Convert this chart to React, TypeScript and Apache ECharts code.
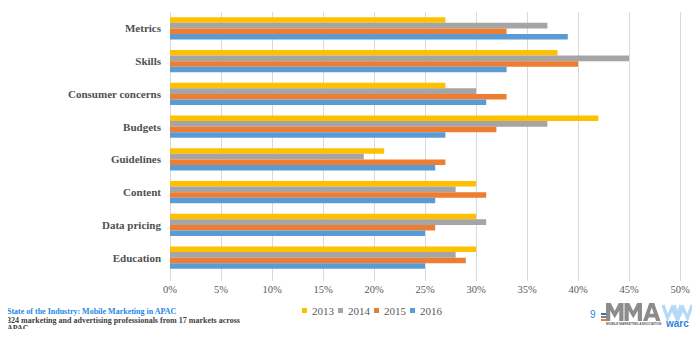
import React, { useEffect, useRef } from "react";
import * as echarts from "echarts";

const categories = [
  "Metrics",
  "Skills",
  "Consumer concerns",
  "Budgets",
  "Guidelines",
  "Content",
  "Data pricing",
  "Education",
];
const years = ["2013", "2014", "2015", "2016"];
const v2013 = [27, 38, 27, 42, 21, 30, 30, 30];
const v2014 = [37, 45, 30, 37, 19, 28, 31, 28];
const v2015 = [33, 40, 33, 32, 27, 31, 26, 29];
const v2016 = [39, 33, 31, 27, 26, 26, 25, 25];
const seriesValues = [v2013, v2014, v2015, v2016];
const colors = ["#FFC000", "#A5A5A5", "#ED7D31", "#5B9BD5"];
const footerTitle = "State of the Industry: Mobile Marketing in APAC";
const footerLine1 = "324 marketing and advertising professionals from 17 markets across";
const footerLine2 = "APAC";

// logo letter outlines in unit coordinates (width 1, height 1)
const mShape = [
  [0, 1], [0, 0], [0.27, 0], [0.5, 0.45], [0.73, 0], [1, 0], [1, 1],
  [0.76, 1], [0.76, 0.42], [0.5, 0.85], [0.24, 0.42], [0.24, 1],
];
const aShape = [
  [0, 1], [0.36, 0], [0.64, 0], [1, 1], [0.75, 1], [0.68, 0.8], [0.32, 0.8], [0.25, 1],
];
const aHole = [[0.38, 0.6], [0.62, 0.6], [0.5, 0.25]];

export default function App() {
  const ref = useRef<HTMLDivElement>(null);
  useEffect(() => {
    if (!ref.current) return;
    const chart = echarts.init(ref.current, null, { renderer: "svg" });
    const serif = "'Liberation Serif', serif";
    const wStyle = { stroke: "#B4DAF4", lineWidth: 3.2, fill: "none", lineJoin: "miter" as const };
    const place = (pts: number[][], x: number, y: number, w: number, h: number) =>
      pts.map(([px, py]) => [x + px * w, y + py * h]);
    chart.setOption({
      animation: false,
      backgroundColor: "#ffffff",
      grid: { left: 170, right: 20, top: 12, bottom: 63, containLabel: false },
      legend: {
        data: years,
        left: 302,
        top: 305,
        padding: 0,
        icon: "rect",
        itemWidth: 5,
        itemHeight: 5,
        itemGap: 4,
        textStyle: { fontFamily: serif, fontSize: 11, color: "#595959" },
      },
      xAxis: {
        type: "value",
        min: 0,
        max: 50,
        interval: 5,
        axisLabel: {
          formatter: "{value}%",
          fontFamily: serif,
          fontSize: 10.5,
          color: "#595959",
          margin: 10,
        },
        axisLine: { show: false },
        axisTick: { show: true, length: 7, lineStyle: { color: "#D9D9D9", width: 1 } },
        splitLine: { show: true, lineStyle: { color: "#D9D9D9", width: 1 } },
      },
      yAxis: {
        type: "category",
        inverse: true,
        data: categories,
        axisLabel: {
          fontFamily: serif,
          fontWeight: "bold",
          fontSize: 11,
          color: "#505050",
          margin: 9,
        },
        axisLine: { show: false },
        axisTick: { show: false },
        splitLine: { show: false },
      },
      series: years.map((y, i) => ({
        name: y,
        type: "bar",
        data: seriesValues[i],
        barGap: "0%",
        barCategoryGap: "32%",
        itemStyle: { color: colors[i] },
      })),
      graphic: [
        {
          type: "text",
          left: 7,
          top: 307,
          style: { text: footerTitle, fill: "#1E88E5", font: "bold 8px 'Liberation Serif', serif" },
        },
        {
          type: "text",
          left: 7,
          top: 316.5,
          style: { text: footerLine1, fill: "#404040", font: "bold 8px 'Liberation Serif', serif" },
        },
        {
          type: "text",
          left: 7,
          top: 324,
          style: { text: footerLine2, fill: "#404040", font: "bold 8px 'Liberation Serif', serif" },
        },
        {
          type: "text",
          left: 590,
          top: 309,
          style: { text: "9", fill: "#1E88E5", font: "10px 'Liberation Sans', sans-serif" },
        },
        { type: "rect", shape: { x: 601, y: 313, width: 5, height: 2 }, style: { fill: "#2E75B6" } },
        { type: "rect", shape: { x: 601, y: 316, width: 5, height: 2 }, style: { fill: "#7F7F7F" } },
        { type: "rect", shape: { x: 601, y: 319, width: 5, height: 2 }, style: { fill: "#ED7D31" } },
        { type: "polygon", shape: { points: place(mShape, 606, 303, 17.5, 18) }, style: { fill: "#8C8C8C" } },
        { type: "polygon", shape: { points: place(mShape, 624.5, 303, 17.5, 18) }, style: { fill: "#8C8C8C" } },
        { type: "polygon", shape: { points: place(aShape, 643, 303, 17.5, 18) }, style: { fill: "#8C8C8C" } },
        { type: "polygon", shape: { points: place(aHole, 643, 303, 17.5, 18) }, style: { fill: "#ffffff" } },
        {
          type: "text",
          left: 606,
          top: 322.5,
          style: { text: "MOBILE MARKETING ASSOCIATION", fill: "#595959", font: "bold 3.2px 'Liberation Sans', sans-serif" },
        },
        {
          type: "polyline",
          shape: { points: [[663, 305], [667.5, 318], [672, 308], [676.5, 318], [681, 305]] },
          style: wStyle,
        },
        {
          type: "polyline",
          shape: { points: [[674, 305], [678.5, 318], [683, 308], [687.5, 318], [692, 305]] },
          style: wStyle,
        },
        {
          type: "text",
          left: 666,
          top: 318,
          style: { text: "warc", fill: "#2E86DE", font: "bold 10px 'Liberation Sans', sans-serif" },
        },
      ],
    });
    return () => chart.dispose();
  }, []);
  return <div ref={ref} style={{ width: 700, height: 337, margin: -8 }} />;
}
